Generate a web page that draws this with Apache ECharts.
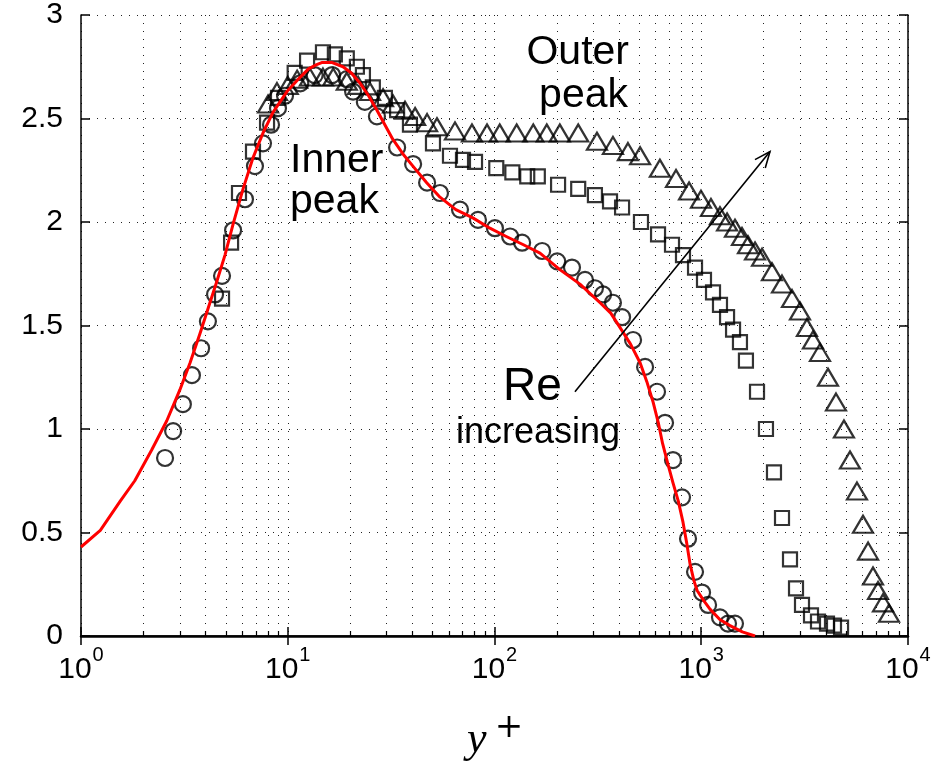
<!DOCTYPE html>
<html>
<head>
<meta charset="utf-8">
<script src="https://cdn.jsdelivr.net/npm/echarts@6/dist/echarts.min.js"></script>
<style>
  html, body { margin: 0; padding: 0; background: #fff; }
  #chart { width: 935px; height: 762px; }
</style>
</head>
<body>
<div id="chart"></div>
<script>
// minor log grid positions (2..9 per decade)
const minorX = [2, 3, 4, 5, 6, 7, 8, 9, 20, 30, 40, 50, 60, 70, 80, 90,
  200, 300, 400, 500, 600, 700, 800, 900, 2000, 3000, 4000, 5000, 6000, 7000, 8000, 9000]

// red curve
const redLine = [[1, 0.43], [1.24, 0.51], [1.545, 0.65], [1.82, 0.75], [2.2, 0.9], [2.6, 1.04], [3.01, 1.19],
  [3.37, 1.32], [3.76, 1.46], [4.11, 1.58], [4.53, 1.71], [4.97, 1.84], [5.44, 1.99], [6.08, 2.16], [6.79, 2.31],
  [7.59, 2.43], [8.48, 2.53], [9.91, 2.63], [11.5, 2.70], [12.6, 2.74], [13.8, 2.76], [14.6, 2.77], [16.4, 2.77],
  [18.5, 2.75], [20.3, 2.72], [22.4, 2.67], [24.6, 2.61], [27, 2.54], [32.2, 2.40], [36, 2.33], [40.3, 2.27],
  [47, 2.19], [54.5, 2.12], [65, 2.06], [78.6, 2.02], [95, 1.97], [114, 1.93], [138, 1.89], [166, 1.85],
  [207, 1.77], [259, 1.70], [324, 1.61], [365, 1.56], [405, 1.49], [455, 1.41], [506, 1.32], [545, 1.23],
  [585, 1.13], [620, 1.03], [650, 0.93], [690, 0.83], [730, 0.74], [775, 0.65], [816, 0.55], [850, 0.45],
  [882, 0.35], [920, 0.27], [955, 0.22], [1030, 0.17], [1102, 0.13], [1230, 0.08], [1377, 0.05], [1580, 0.02],
  [1820, 0]]

// circles (lowest Re)
const circles = [[2.55, 0.86], [2.79, 0.99], [3.11, 1.12], [3.44, 1.26], [3.81, 1.39], [4.11, 1.52], [4.45, 1.65],
  [4.81, 1.74], [5.44, 1.96], [6.21, 2.11], [6.94, 2.27], [7.59, 2.38], [8.3, 2.47], [8.97, 2.55], [9.7, 2.61],
  [11.5, 2.67], [13.5, 2.71], [16.4, 2.71], [19.3, 2.69], [20.7, 2.63], [23.6, 2.58], [27, 2.51], [33.8, 2.36],
  [40.4, 2.28], [47.2, 2.19], [54.5, 2.14], [68.1, 2.06], [83.2, 2.01], [100.5, 1.97], [119, 1.93], [136, 1.90],
  [170, 1.86], [201, 1.81], [237, 1.78], [274, 1.72], [306, 1.68], [335, 1.65], [374, 1.61], [414, 1.54],
  [468, 1.43], [535, 1.30], [611, 1.18], [668, 1.03], [730, 0.85], [807, 0.67], [863, 0.47], [933, 0.31],
  [1009, 0.21], [1079, 0.15], [1232, 0.09], [1347, 0.06], [1456, 0.06]]

// squares
const squares = [[4.81, 1.63], [5.32, 1.90], [5.81, 2.14], [6.79, 2.34], [7.94, 2.48], [8.97, 2.60], [10.8, 2.72],
  [12.4, 2.78], [14.8, 2.82], [16.9, 2.81], [19.3, 2.79], [21.6, 2.75], [23.1, 2.71], [25.8, 2.65], [29.5, 2.60],
  [33.8, 2.54], [39, 2.47], [50.4, 2.38], [60.9, 2.32], [70.4, 2.30], [80.5, 2.29], [102, 2.26], [122, 2.24],
  [144, 2.22], [162, 2.22], [203, 2.18], [254, 2.16], [306, 2.13], [362, 2.10], [414, 2.07], [511, 2.00],
  [618, 1.94], [722, 1.89], [816, 1.84], [933, 1.78], [1031, 1.72], [1140, 1.66], [1232, 1.60], [1333, 1.54],
  [1425, 1.48], [1539, 1.42], [1645, 1.33], [1861, 1.18], [2056, 1.00], [2248, 0.79], [2458, 0.57], [2687, 0.37],
  [2873, 0.23], [3071, 0.15], [3395, 0.10], [3670, 0.07], [4057, 0.06], [4386, 0.05], [4744, 0.04]]

// triangles (highest Re)
const triangles = [[8.03, 2.57], [8.87, 2.63], [10.0, 2.66], [11.1, 2.69], [12.8, 2.70], [14.8, 2.70], [16.6, 2.70],
  [19.3, 2.68], [21.9, 2.66], [25.0, 2.63], [28.9, 2.60], [32.3, 2.57], [36.9, 2.54], [41.3, 2.51], [47.2, 2.48],
  [52.7, 2.46], [64.4, 2.44], [77.8, 2.43], [92, 2.43], [106, 2.43], [128, 2.43], [154, 2.43], [179, 2.43],
  [207, 2.43], [254, 2.43], [313, 2.39], [374, 2.37], [442, 2.34], [506, 2.32], [631, 2.26], [755, 2.21],
  [873, 2.15], [997, 2.11], [1114, 2.07], [1232, 2.03], [1333, 2.00], [1456, 1.97], [1574, 1.93], [1683, 1.89],
  [1820, 1.86], [1968, 1.83], [2198, 1.76], [2458, 1.70], [2748, 1.63], [3003, 1.57], [3245, 1.49], [3470, 1.43],
  [3752, 1.37], [4102, 1.25], [4485, 1.13], [4900, 1.00], [5242, 0.85], [5665, 0.70], [6058, 0.54], [6412, 0.41],
  [6772, 0.29], [7163, 0.22], [7570, 0.16], [8093, 0.11]]

// "Re increasing" arrow, data coords
const arrowFrom = [245, 1.18]
const arrowTo = [2150, 2.34]

const chart = echarts.init(document.getElementById('chart'), null, { renderer: 'canvas' })

const dotted = { color: '#222', width: 1, type: [1, 7] }
const font = 'Liberation Sans, Arial, sans-serif'
const hollow = { color: 'rgba(0,0,0,0)', borderColor: '#000', borderWidth: 2.2 }

chart.setOption({
  animation: false,
  backgroundColor: '#fff',
  grid: { left: 81, right: 27, top: 15, bottom: 126, containLabel: false, outerBoundsMode: 'none' },
  xAxis: [{
    type: 'log',
    logBase: 10,
    min: 1,
    max: 10000,
    position: 'bottom',
    axisLine: { lineStyle: { color: '#000', width: 2.5 } },
    axisTick: { inside: true, length: 9, lineStyle: { color: '#000', width: 1.5 } },
    splitLine: { show: true, lineStyle: dotted },
    axisLabel: {
      margin: 9,
      formatter: v => '{b|10}{s|' + Math.round(Math.log10(v)) + '}',
      rich: {
        b: { fontFamily: font, fontSize: 30, color: '#000', verticalAlign: 'bottom' },
        s: { fontFamily: font, fontSize: 20, color: '#000', verticalAlign: 'bottom', padding: [0, 0, 20, 1] }
      }
    }
  }, {
    type: 'log',
    logBase: 10,
    min: 1,
    max: 10000,
    position: 'top',
    axisLine: { lineStyle: { color: '#000', width: 1.5 } },
    axisTick: { inside: true, length: 9, lineStyle: { color: '#000', width: 1.5 } },
    axisLabel: { show: false },
    splitLine: { show: false }
  }],
  yAxis: [{
    type: 'value',
    min: 0,
    max: 3,
    interval: 0.5,
    position: 'left',
    axisLine: { show: true, lineStyle: { color: '#000', width: 1.5 } },
    axisTick: { show: true, inside: true, length: 9, lineStyle: { color: '#000', width: 1.5 } },
    splitLine: { show: true, lineStyle: dotted },
    axisLabel: { margin: 18, fontFamily: font, fontSize: 30, color: '#000' }
  }, {
    type: 'value',
    min: 0,
    max: 3,
    interval: 0.5,
    position: 'right',
    axisLine: { show: true, lineStyle: { color: '#000', width: 1.5 } },
    axisTick: { show: true, inside: true, length: 9, lineStyle: { color: '#000', width: 1.5 } },
    splitLine: { show: false },
    axisLabel: { show: false }
  }],
  series: [
    {
      // minor log grid lines and ticks
      type: 'custom',
      silent: true,
      z: 1,
      data: minorX.map(v => [v, 0]),
      renderItem(params, api) {
        const p = api.coord([api.value(0), 0])
        const cs = params.coordSys
        const x = Math.round(p[0]) + 0.5
        return {
          type: 'group',
          children: [
            { type: 'line', shape: { x1: x, y1: cs.y, x2: x, y2: cs.y + cs.height },
              style: { stroke: '#222', lineWidth: 1, lineDash: [1, 7] } },
            { type: 'line', shape: { x1: x, y1: cs.y + cs.height, x2: x, y2: cs.y + cs.height - 5 },
              style: { stroke: '#000', lineWidth: 1.2 } }
          ]
        }
      }
    },
    {
      type: 'scatter',
      z: 3,
      symbol: 'circle',
      symbolSize: 16,
      itemStyle: hollow,
      data: circles
    },
    {
      type: 'scatter',
      z: 3,
      symbol: 'rect',
      symbolSize: 14,
      itemStyle: hollow,
      data: squares
    },
    {
      type: 'scatter',
      z: 3,
      symbol: 'triangle',
      symbolSize: [20, 17],
      itemStyle: hollow,
      data: triangles
    },
    {
      type: 'line',
      z: 4,
      smooth: false,
      showSymbol: false,
      lineStyle: { color: '#ff0000', width: 3, join: 'round' },
      data: redLine
    },
    {
      // arrow
      type: 'custom',
      silent: true,
      z: 5,
      data: [[arrowFrom[0], arrowFrom[1], arrowTo[0], arrowTo[1]]],
      renderItem(params, api) {
        const a = api.coord([api.value(0), api.value(1)])
        const b = api.coord([api.value(2), api.value(3)])
        const ang = Math.atan2(b[1] - a[1], b[0] - a[0])
        const len = 17
        const arm = s => [b[0] - len * Math.cos(ang + s), b[1] - len * Math.sin(ang + s)]
        return {
          type: 'group',
          children: [
            { type: 'line', shape: { x1: a[0], y1: a[1], x2: b[0], y2: b[1] },
              style: { stroke: '#000', lineWidth: 1.6 } },
            { type: 'polyline', shape: { points: [arm(0.4), b, arm(-0.4)] },
              style: { stroke: '#000', lineWidth: 1.6, fill: null } }
          ]
        }
      }
    }
  ],
  graphic: [
    { type: 'text', x: 629, y: 53, z: 10, style: { text: 'Outer', font: '41px ' + font, fill: '#000', align: 'right', verticalAlign: 'middle' } },
    { type: 'text', x: 628, y: 96, z: 10, style: { text: 'peak', font: '41px ' + font, fill: '#000', align: 'right', verticalAlign: 'middle' } },
    { type: 'text', x: 290, y: 161, z: 10, style: { text: 'Inner', font: '41px ' + font, fill: '#000', align: 'left', verticalAlign: 'middle' } },
    { type: 'text', x: 290, y: 202, z: 10, style: { text: 'peak', font: '41px ' + font, fill: '#000', align: 'left', verticalAlign: 'middle' } },
    { type: 'text', x: 503, y: 387, z: 10, style: { text: 'Re', font: '46px ' + font, fill: '#000', align: 'left', verticalAlign: 'middle' } },
    { type: 'text', x: 456, y: 433, z: 10, style: { text: 'increasing', font: '36px ' + font, fill: '#000', align: 'left', verticalAlign: 'middle' } },
    // axis title y+
    { type: 'text', x: 467, y: 740, z: 10, style: { text: 'y', font: 'italic 44px Liberation Serif, serif', fill: '#000', align: 'left', verticalAlign: 'middle' } },
    { type: 'text', x: 509, y: 728, z: 10, style: { text: '+', font: '34px DejaVu Serif, serif', fill: '#000', align: 'center', verticalAlign: 'middle' } }
  ]
})
</script>
</body>
</html>
